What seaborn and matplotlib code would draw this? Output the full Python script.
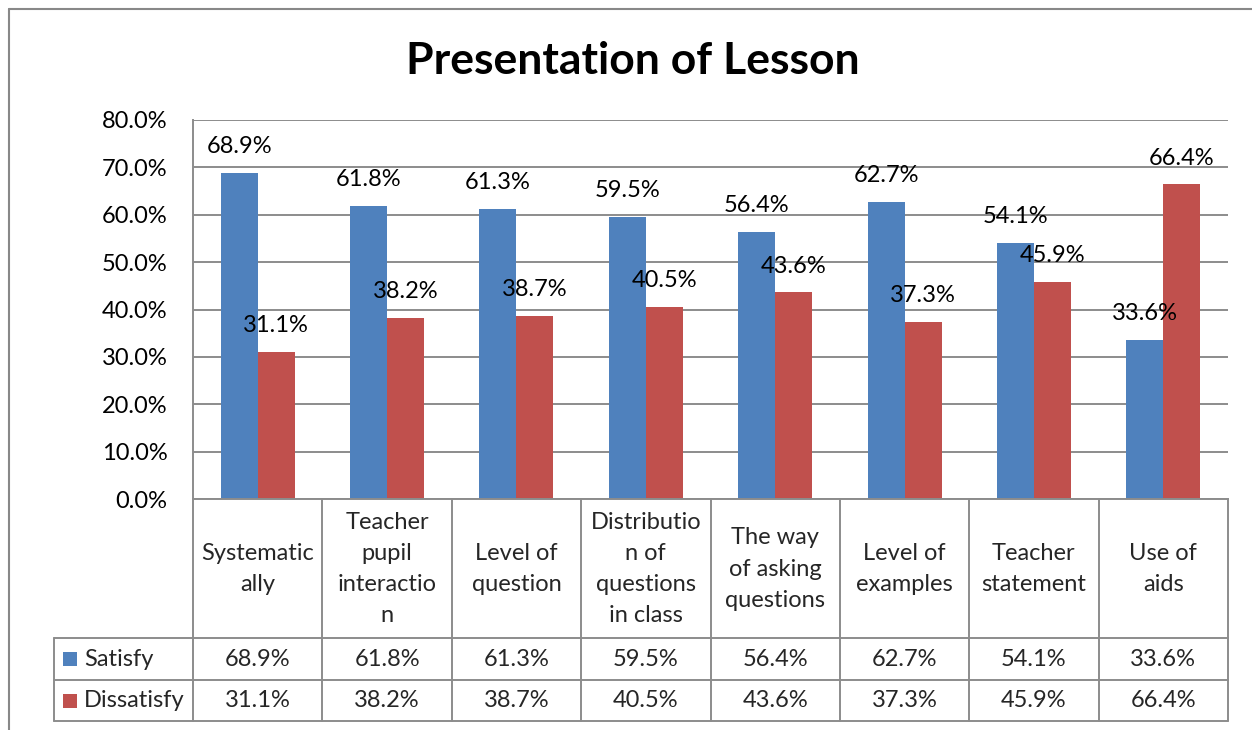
import matplotlib
matplotlib.use('Agg')
import pandas as pd
import matplotlib.pyplot as plt
import seaborn as sns
from matplotlib.lines import Line2D
from matplotlib.patches import Rectangle

# Chart data
categories = ['Systematically', 'Teacher pupil interaction', 'Level of question',
              'Distribution of questions in class', 'The way of asking questions',
              'Level of examples', 'Teacher statement', 'Use of aids']
header_labels = ['Systematic\nally', 'Teacher\npupil\ninteractio\nn', 'Level of\nquestion',
                 'Distributio\nn of\nquestions\nin class', 'The way\nof asking\nquestions',
                 'Level of\nexamples', 'Teacher\nstatement', 'Use of\naids']
series_names = ['Satisfy', 'Dissatisfy']
satisfy = [68.9, 61.8, 61.3, 59.5, 56.4, 62.7, 54.1, 33.6]
dissatisfy = [31.1, 38.2, 38.7, 40.5, 43.6, 37.3, 45.9, 66.4]
y_ticks = [0, 10, 20, 30, 40, 50, 60, 70, 80]

colors = {'Satisfy': '#4F81BD', 'Dissatisfy': '#C0504D'}
grid_color = '#8c8c8c'

df = pd.DataFrame({
    'category': categories * 2,
    'series': ['Satisfy'] * len(categories) + ['Dissatisfy'] * len(categories),
    'value': satisfy + dissatisfy,
})

sns.set_theme(style='white')
plt.rcParams['font.family'] = ['Lato', 'DejaVu Sans']
fs = 17

W, H = 1252, 730
fig = plt.figure(figsize=(W / 100, H / 100), dpi=100)

# plot area in pixel terms: left 193, right 1228, top 120, bottom 499
L, R, T, B = 193, 1228, 120, 499
ax = fig.add_axes([L / W, 1 - B / H, (R - L) / W, (B - T) / H])

sns.barplot(data=df, x='category', y='value', hue='series', hue_order=series_names,
            palette=colors, width=0.572, saturation=1, legend=False, ax=ax,
            edgecolor='none')

ax.set_xlim(-0.5, len(categories) - 0.5)
ax.set_ylim(0, 80)
ax.set_yticks(y_ticks)
ax.set_yticklabels([f'{v:.1f}%' for v in y_ticks], fontsize=fs, color='black')
ax.set_xticks([])
ax.set_xlabel('')
ax.set_ylabel('')
ax.tick_params(axis='y', length=0, pad=18.5)
ax.yaxis.grid(True, color=grid_color, linewidth=1.4)
ax.set_axisbelow(True)
for s in ['top', 'right']:
    ax.spines[s].set_visible(False)
for s in ['left', 'bottom']:
    ax.spines[s].set_color(grid_color)
    ax.spines[s].set_linewidth(1.4)

# data labels above bars
for container, vals in zip(ax.containers, [satisfy, dissatisfy]):
    for patch, v in zip(container, vals):
        ax.annotate(f'{v:.1f}%', (patch.get_x() + patch.get_width() / 2, patch.get_height()),
                    xytext=(0, 19), textcoords='offset points',
                    ha='center', va='center', fontsize=fs, color='black')

# data table below the plot
def ay(py):
    return (B - py) / (B - T)

def axx(px):
    return (px - L) / (R - L)

xt = ax.get_xaxis_transform()
row_lines = [638, 680, 721]
for i in range(len(categories) + 1):
    ax.add_line(Line2D([i - 0.5, i - 0.5], [ay(B), ay(721)], transform=xt,
                       color=grid_color, lw=1.4, clip_on=False))
for py in row_lines:
    ax.add_line(Line2D([axx(54), 1], [ay(py), ay(py)], transform=ax.transAxes,
                       color=grid_color, lw=1.4, clip_on=False))
ax.add_line(Line2D([axx(54), axx(54)], [ay(638), ay(721)], transform=ax.transAxes,
                   color=grid_color, lw=1.4, clip_on=False))

for i, lab in enumerate(header_labels):
    ax.text(i, ay(569), lab, transform=xt, ha='center', va='center',
            fontsize=fs, linespacing=1.6, clip_on=False)

row_centers = [659, 700.5]
for name, vals, yc in zip(series_names, [satisfy, dissatisfy], row_centers):
    for i, v in enumerate(vals):
        ax.text(i, ay(yc), f'{v:.1f}%', transform=xt, ha='center', va='center',
                fontsize=fs, clip_on=False)
    ax.add_patch(Rectangle((axx(63), ay(yc + 7)), axx(77) - axx(63), ay(yc - 7) - ay(yc + 7),
                           transform=ax.transAxes, facecolor=colors[name],
                           edgecolor='none', clip_on=False))
    ax.text(axx(84), ay(yc), name, transform=ax.transAxes, ha='left', va='center',
            fontsize=fs, clip_on=False)

# outer chart border (top and left visible)
fig.add_artist(Line2D([9 / W, 1], [1 - 9 / H, 1 - 9 / H], transform=fig.transFigure,
                      color='#888888', lw=1.5))
fig.add_artist(Line2D([9 / W, 9 / W], [1 - 9 / H, 0], transform=fig.transFigure,
                      color='#888888', lw=1.5))

fig.text(633 / W, 1 - 61 / H, 'Presentation of Lesson', ha='center', va='center',
         fontsize=32, fontweight='bold', color='black')

fig.savefig('out.png', dpi=100)
